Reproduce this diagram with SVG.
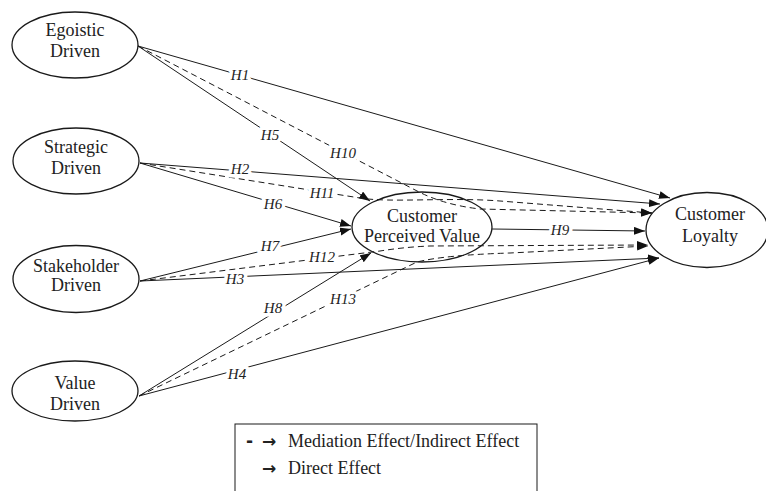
<svg xmlns="http://www.w3.org/2000/svg" width="766" height="491" viewBox="0 0 766 491">
<style>
.node ellipse{fill:#fff;stroke:#1a1a1a;stroke-width:1.3}
.nt{font-family:"Liberation Serif","Times New Roman",serif;font-size:18px;fill:#222;text-anchor:middle}
.c{fill:none;stroke:#1a1a1a;stroke-width:1;marker-end:url(#ah)}
.d{stroke-dasharray:6 4}
.lb{font-family:"Liberation Serif","Times New Roman",serif;font-style:italic;font-size:15px;fill:#222;text-anchor:middle;stroke:#fff;stroke-width:7;paint-order:stroke;stroke-linejoin:round}
.lg{font-family:"Liberation Serif","Times New Roman",serif;font-size:18px;fill:#222}
.ar{font-family:"DejaVu Sans",sans-serif;font-size:17px;fill:#222;font-weight:bold}
</style>
<defs>
<marker id="ah" markerUnits="userSpaceOnUse" markerWidth="12" markerHeight="9" refX="11" refY="4" orient="auto" viewBox="0 0 12 9">
<path d="M0,0 L11,4 L0,8 z" fill="#111"/>
</marker>
</defs>
<rect width="766" height="491" fill="#fff"/>
<g id="egoistic" class="node"><ellipse cx="75" cy="45" rx="63" ry="33"/><text class="nt" x="75" y="36">Egoistic</text><text class="nt" x="75" y="57">Driven</text></g>
<g id="strategic" class="node"><ellipse cx="76" cy="161" rx="63" ry="33"/><text class="nt" x="76" y="153">Strategic</text><text class="nt" x="76" y="174">Driven</text></g>
<g id="stakeholder" class="node"><ellipse cx="76" cy="279" rx="63" ry="33.5"/><text class="nt" x="76" y="272">Stakeholder</text><text class="nt" x="76" y="291">Driven</text></g>
<g id="value" class="node"><ellipse cx="75" cy="391" rx="63" ry="30"/><text class="nt" x="75" y="389">Value</text><text class="nt" x="75" y="410">Driven</text></g>
<g id="cpv" class="node"><ellipse cx="422" cy="227" rx="70" ry="35"/><text class="nt" x="422" y="222">Customer</text><text class="nt" x="422" y="242">Perceived Value</text></g>
<g id="loyalty" class="node"><ellipse cx="707" cy="230" rx="61" ry="37.5"/><text class="nt" x="710" y="220">Customer</text><text class="nt" x="710" y="242">Loyalty</text></g>
<g id="connectors">
<path class="c" d="M138,46 L670,198"/>
<path class="c" d="M138,46 L370,201"/>
<path class="c d" d="M138,46 L419,192 Q445,205 480,209 L652,213"/>
<path class="c" d="M140,163 L660,204"/>
<path class="c d" d="M140,163 L360,198 C390,203 450,197 500,201 L652,213"/>
<path class="c" d="M140,163 L351,226"/>
<path class="c" d="M140,281 L351,229"/>
<path class="c d" d="M140,281 L380,251 Q405,247 430,246 L648,245"/>
<path class="c" d="M140,281 L659,258"/>
<path class="c" d="M139,396 L371,253"/>
<path class="c d" d="M139,396 L417,262 Q445,255 510,253 L648,246"/>
<path class="c" d="M139,396 L659,258"/>
<path class="c" d="M492,229 L645,231"/>
<text class="lb" x="240" y="80">H1</text>
<text class="lb" x="270" y="140">H5</text>
<text class="lb" x="343" y="158">H10</text>
<text class="lb" x="240" y="174">H2</text>
<text class="lb" x="322" y="198">H11</text>
<text class="lb" x="273" y="209">H6</text>
<text class="lb" x="270" y="251">H7</text>
<text class="lb" x="322" y="262">H12</text>
<text class="lb" x="235" y="284">H3</text>
<text class="lb" x="273" y="313">H8</text>
<text class="lb" x="343" y="304">H13</text>
<text class="lb" x="237" y="379">H4</text>
<text class="lb" x="560" y="235">H9</text>
</g>
<g id="legend">
<rect x="235" y="424" width="302" height="80" fill="#fff" stroke="#1a1a1a" stroke-width="1"/>
<text class="ar" y="447"><tspan x="246">-</tspan><tspan x="262">→</tspan></text>
<text class="lg" x="288" y="447">Mediation Effect/Indirect Effect</text>
<text class="ar" x="262" y="474">→</text>
<text class="lg" x="288" y="474">Direct Effect</text>
</g>
</svg>
